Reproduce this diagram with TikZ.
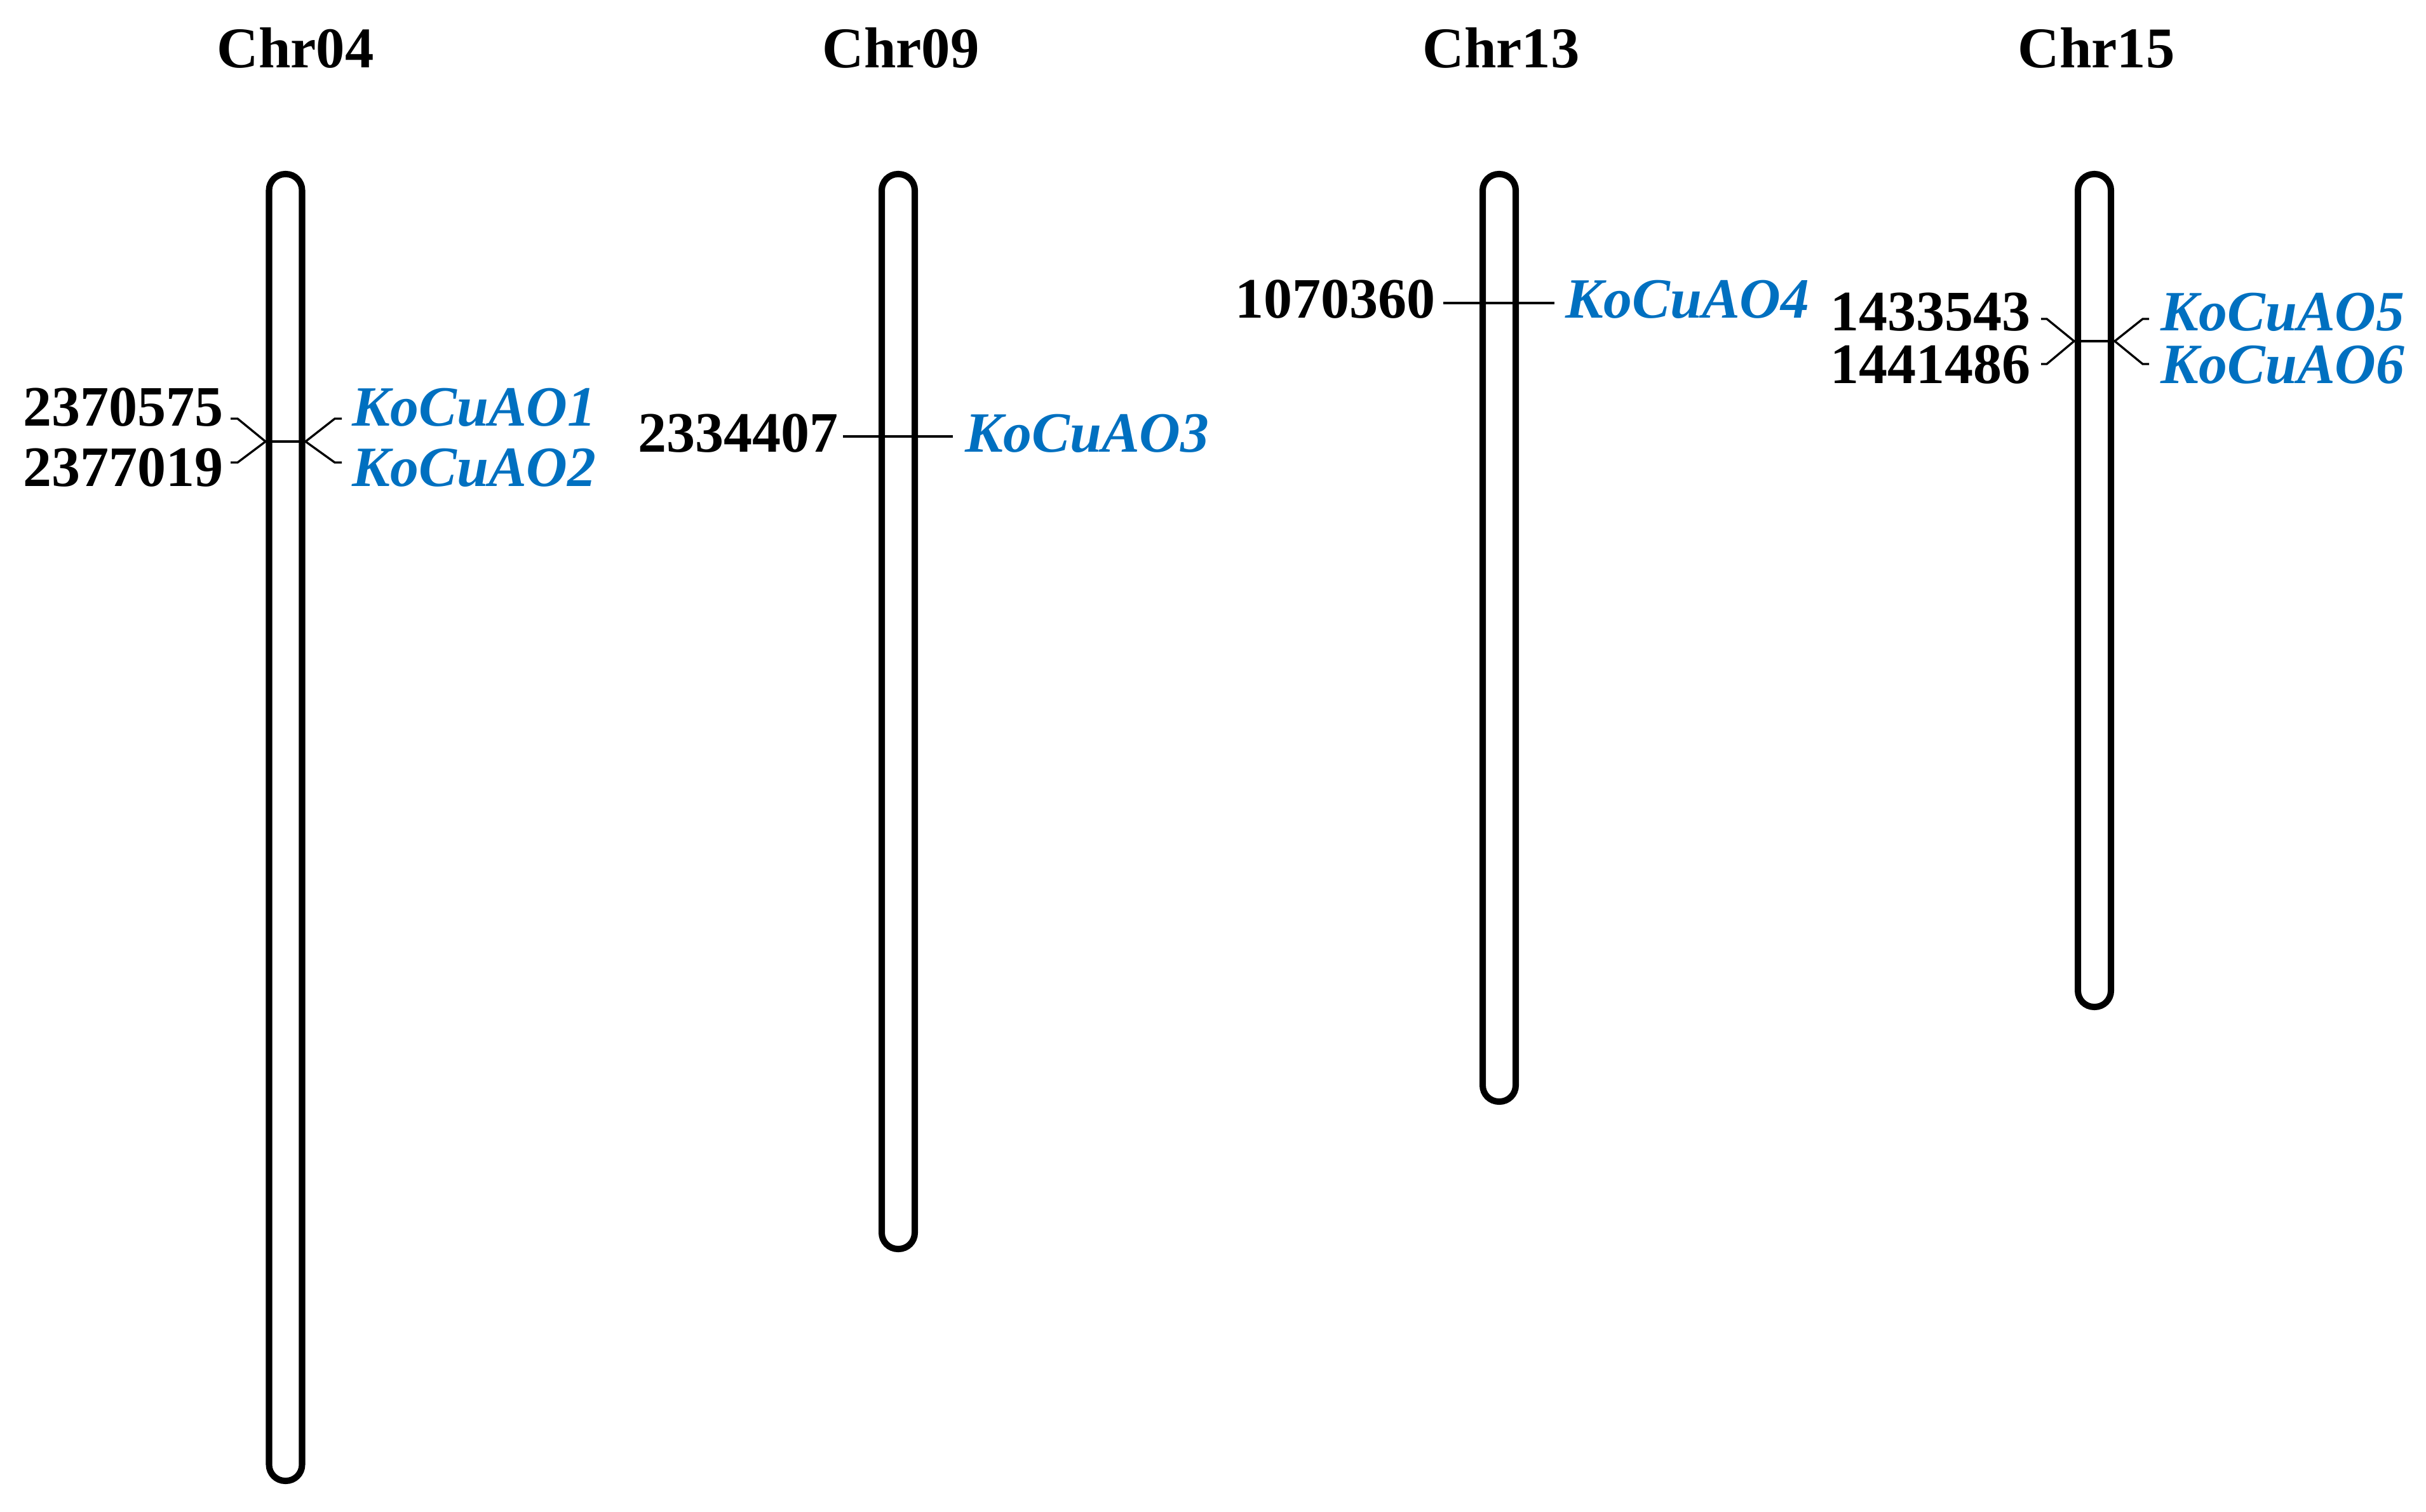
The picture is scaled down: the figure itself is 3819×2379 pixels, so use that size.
\documentclass[tikz,border=0pt]{standalone}
\usepackage{fontspec}
\setmainfont{Liberation Serif}
\definecolor{geneblue}{RGB}{0,112,192}
\begin{document}
\begin{tikzpicture}[x=0.01cm,y=-0.01cm,
  chrom/.style={line width=2.85pt, rounded corners=0.255cm},
  tick/.style={line width=0.95pt},
  poslabel/.style={font=\fontsize{25.6}{30}\selectfont\bfseries, inner sep=0pt, anchor=base east},
  genelabel/.style={font=\fontsize{25.5}{30}\selectfont\bfseries\itshape, text=geneblue, inner sep=0pt, anchor=base west},
  chrtitle/.style={font=\fontsize{25.8}{32}\selectfont\bfseries, inner sep=0pt, anchor=base}]
\useasboundingbox (0,0) rectangle (3819,2379);

% titles
\node[chrtitle] (t4)  at (465,107)  {Chr04};
\node[chrtitle] (t9)  at (1418,107) {Chr09};
\node[chrtitle] (t13) at (2363,107) {Chr13};
\node[chrtitle] (t15) at (3300,107) {Chr15};

% chromosomes
\draw[chrom] (423.5,274) rectangle (475.5,2331);
\draw[chrom] (1388,274) rectangle (1440,1966);
\draw[chrom] (2334,274) rectangle (2386,1734);
\draw[chrom] (3271,274) rectangle (3323,1585);

% ---- Chr04 markers
\coordinate (c4L) at (418,695);
\coordinate (c4R) at (481,695);
\node[poslabel]  (p1) at (352,670) {2370575};
\node[poslabel]  (p2) at (352,765) {2377019};
\node[genelabel] (g1) at (554,670) {KoCuAO1};
\node[genelabel] (g2) at (554,765) {KoCuAO2};
\coordinate (p1s) at (363,659);
\coordinate (p2s) at (363,728);
\coordinate (g1s) at (538,659);
\coordinate (g2s) at (538,728);
\draw[tick] (c4L) -- (c4R);
\draw[tick] (p1s) -- ++(11,0) -- (c4L);
\draw[tick] (p2s) -- ++(11,0) -- (c4L);
\draw[tick] (g1s) -- ++(-11,0) -- (c4R);
\draw[tick] (g2s) -- ++(-11,0) -- (c4R);

% ---- Chr09 marker
\node[poslabel]  (p3) at (1320,711) {2334407};
\node[genelabel] (g3) at (1519,711) {KoCuAO3};
\coordinate (p3s) at (1327,687);
\coordinate (g3s) at (1500,687);
\draw[tick] (p3s) -- (g3s);

% ---- Chr13 marker
\node[poslabel]  (p4) at (2260,500) {1070360};
\node[genelabel] (g4) at (2464,500) {KoCuAO4};
\coordinate (p4s) at (2272,477);
\coordinate (g4s) at (2447,477);
\draw[tick] (p4s) -- (g4s);

% ---- Chr15 markers
\coordinate (c15L) at (3265,537);
\coordinate (c15R) at (3329,537);
\node[poslabel]  (p5) at (3197,520) {1433543};
\node[poslabel]  (p6) at (3197,603) {1441486};
\node[genelabel] (g5) at (3401,520) {KoCuAO5};
\node[genelabel] (g6) at (3401,603) {KoCuAO6};
\coordinate (p5s) at (3213,502);
\coordinate (p6s) at (3213,573);
\coordinate (g5s) at (3383,502);
\coordinate (g6s) at (3383,573);
\draw[tick] (c15L) -- (c15R);
\draw[tick] (p5s) -- ++(9,0) -- (c15L);
\draw[tick] (p6s) -- ++(9,0) -- (c15L);
\draw[tick] (g5s) -- ++(-10,0) -- (c15R);
\draw[tick] (g6s) -- ++(-10,0) -- (c15R);
\end{tikzpicture}
\end{document}
